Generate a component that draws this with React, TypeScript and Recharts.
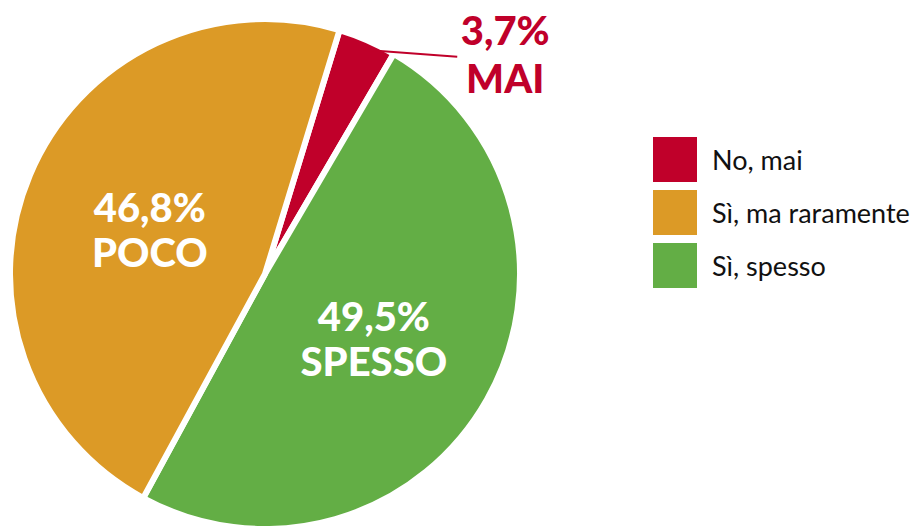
import React from "react";
import { PieChart, Pie, Cell, Legend } from "recharts";

const categories = ["No, mai", "Sì, ma raramente", "Sì, spesso"];
const values = [3.7, 46.8, 49.5];
const shortLabels = ["MAI", "POCO", "SPESSO"];
const valueLabels = ["3,7%", "46,8%", "49,5%"];
const colors = ["#C0002A", "#DC9A26", "#63AE45"];

// drawing order clockwise: red, green, orange
const order = [0, 2, 1];
const data = order.map((i) => ({
  name: categories[i],
  value: values[i],
  short: shortLabels[i],
  label: valueLabels[i],
  color: colors[i],
}));

const RAD = Math.PI / 180;
const FONT = "Lato, 'Noto Sans', sans-serif";

const renderLabel = (props: any) => {
  const { cx, cy, midAngle, outerRadius, payload, index } = props;
  const p = payload && payload.payload ? payload.payload : payload;
  const cos = Math.cos(-midAngle * RAD);
  const sin = Math.sin(-midAngle * RAD);
  if (index === 0) {
    const sx = cx + outerRadius * 0.96 * cos;
    const sy = cy + outerRadius * 0.96 * sin;
    const ex = sx + 94;
    const ey = sy + 7;
    return (
      <g>
        <line x1={sx} y1={sy} x2={ex} y2={ey} stroke={colors[0]} strokeWidth={2} />
        <text x={ex + 48} y={sy - 20} fill={colors[0]} textAnchor="middle" dominantBaseline="central" fontFamily={FONT} fontWeight={900} fontSize={40}>
          {p.label}
        </text>
        <text x={ex + 48} y={sy + 28} fill={colors[0]} textAnchor="middle" dominantBaseline="central" fontFamily={FONT} fontWeight={900} fontSize={40}>
          {p.short}
        </text>
      </g>
    );
  }
  const r = outerRadius * 0.49;
  const x = cx + r * cos;
  const y = cy + r * sin + 3;
  return (
    <g>
      <text x={x} y={y - 22} fill="#fff" textAnchor="middle" dominantBaseline="central" fontFamily={FONT} fontWeight={900} fontSize={40}>
        {p.label}
      </text>
      <text x={x} y={y + 23} fill="#fff" textAnchor="middle" dominantBaseline="central" fontFamily={FONT} fontWeight={900} fontSize={40}>
        {p.short}
      </text>
    </g>
  );
};

const renderLegend = () => (
  <div style={{ fontFamily: FONT, fontSize: 27, color: "#111" }}>
    {categories.map((c, i) => (
      <div key={c} style={{ display: "flex", alignItems: "center", height: 53 }}>
        <div style={{ width: 44, height: 45, background: colors[i], marginRight: 15, flexShrink: 0 }} />
        <span style={{ whiteSpace: "nowrap" }}>{c}</span>
      </div>
    ))}
  </div>
);

export default function App() {
  return (
    <div style={{ position: "absolute", left: 0, top: 0, width: 918, height: 526, background: "#fff" }}>
      <PieChart width={918} height={526} margin={{ top: 0, right: 0, bottom: 0, left: 0 }}>
        <Pie
          data={data}
          dataKey="value"
          nameKey="name"
          cx={265}
          cy={274}
          outerRadius={255}
          startAngle={73}
          endAngle={-287}
          stroke="#fff"
          strokeWidth={6}
          label={renderLabel}
          labelLine={false}
          isAnimationActive={false}
        >
          {data.map((d) => (
            <Cell key={d.name} fill={d.color} />
          ))}
        </Pie>
        <Legend content={renderLegend} wrapperStyle={{ position: "absolute", left: 653, top: 133, width: 265 }} />
      </PieChart>
    </div>
  );
}
